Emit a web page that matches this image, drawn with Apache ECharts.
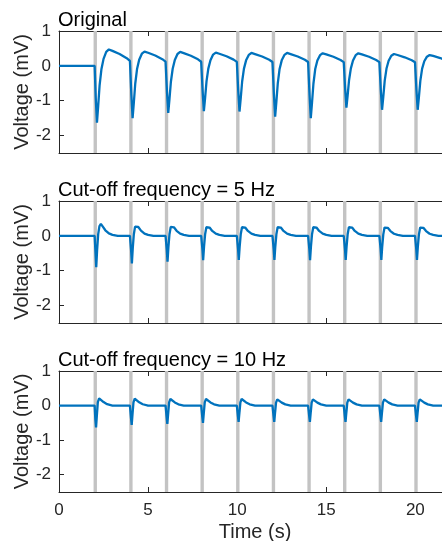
<!DOCTYPE html>
<html lang="en">
<head>
<meta charset="UTF-8">
<title>Voltage traces</title>
<script src="https://cdn.jsdelivr.net/npm/echarts@6/dist/echarts.min.js"></script>
<style>
	html, body { margin: 0; padding: 0; background: #fff; }
	#main { width: 442px; height: 541px; }
</style>
</head>
<body>
<div id="main"></div>
<script>
	// titles of the three panels
	var panelTitles = ['Original', 'Cut-off frequency = 5 Hz', 'Cut-off frequency = 10 Hz'];
	// stimulus times (s), shown as gray bars
	var stimTimes = [2, 4, 6, 8, 10, 12, 14, 16, 18, 20, 22];
	var yTicks = [-2, -1, 0, 1];

	var shapeOriginal = [[0.06, -0.9], [0.13, -1.63], [0.2, -1.15], [0.28, -0.55], [0.38, -0.1],
		[0.5, 0.2], [0.65, 0.4], [0.8, 0.47], [1.0, 0.43], [1.4, 0.34], [1.8, 0.22], [1.98, 0.14]];
	var shape5Hz = [[0.05, -0.5], [0.09, -0.9], [0.14, -0.4], [0.2, 0.05], [0.27, 0.28],
		[0.35, 0.34], [0.45, 0.27], [0.6, 0.16], [0.8, 0.07], [1.0, 0.03], [1.3, 0.0], [1.98, 0.0]];
	var shape10Hz = [[0.04, -0.4], [0.08, -0.63], [0.13, -0.25], [0.18, 0.1], [0.25, 0.21],
		[0.35, 0.16], [0.5, 0.1], [0.7, 0.04], [1.0, 0.0], [1.98, 0.0]];

	// minimum and peak of every pulse
	var minOriginal = [-1.63, -1.5, -1.35, -1.3, -1.31, -1.46, -1.5, -1.2, -1.26, -1.26, -1.3];
	var peakOriginal = [0.47, 0.41, 0.4, 0.38, 0.37, 0.37, 0.36, 0.36, 0.34, 0.31, 0.31];
	var min5Hz = [-0.9, -0.79, -0.74, -0.7, -0.69, -0.69, -0.7, -0.69, -0.69, -0.69, -0.7];
	var peak5Hz = [0.34, 0.32, 0.31, 0.3, 0.3, 0.3, 0.3, 0.3, 0.29, 0.29, 0.29];
	var min10Hz = [-0.63, -0.56, -0.53, -0.5, -0.47, -0.47, -0.47, -0.47, -0.47, -0.47, -0.47];
	var peak10Hz = [0.21, 0.2, 0.19, 0.19, 0.19, 0.18, 0.18, 0.18, 0.18, 0.18, 0.18];

	function buildTrace(shape, mins, peaks) {
		var lo = Math.min.apply(null, shape.map(function (p) { return p[1]; }));
		var hi = Math.max.apply(null, shape.map(function (p) { return p[1]; }));
		var pts = [[0, 0], [stimTimes[0], 0]];
		stimTimes.forEach(function (t0, i) {
			shape.forEach(function (p) {
				var v = p[1] < 0 ? p[1] * mins[i] / lo : p[1] * peaks[i] / hi;
				pts.push([t0 + p[0], v]);
			});
		});
		return pts;
	}

	var traces = [
		buildTrace(shapeOriginal, minOriginal, peakOriginal),
		buildTrace(shape5Hz, min5Hz, peak5Hz),
		buildTrace(shape10Hz, min10Hz, peak10Hz)
	];

	var font = 'Liberation Sans, Arial, Helvetica, sans-serif';
	var axisColor = '#262626';
	var gridTops = [31, 201, 371];
	var gridHeights = [122, 122, 121];

	var grids = [], xAxes = [], yAxes = [], series = [], titles = [];
	for (var i = 0; i < 3; i++) {
		grids.push({ left: 59, top: gridTops[i], width: 392, height: gridHeights[i], outerBoundsMode: 'none', containLabel: false });
		titles.push({
			text: panelTitles[i], left: 58, top: gridTops[i] - 21, padding: 0,
			textStyle: { fontSize: 20, fontWeight: 'normal', color: '#000', fontFamily: font }
		});
		xAxes.push({
			type: 'value', gridIndex: i, position: 'bottom', min: 0, max: 22, interval: 5,
			axisLine: { show: true, onZero: false, lineStyle: { color: axisColor, width: 1 } },
			axisTick: { show: true, inside: true, length: 5, lineStyle: { color: axisColor } },
			axisLabel: { show: i === 2, showMaxLabel: false, fontSize: 17, color: axisColor, margin: 10, fontFamily: font },
			splitLine: { show: false },
			name: i === 2 ? 'Time (s)' : '', nameLocation: 'middle', nameGap: 30, nameMoveOverlap: false,
			nameTextStyle: { fontSize: 20, color: axisColor, fontFamily: font }
		});
		yAxes.push({
			type: 'value', gridIndex: i, min: -2.5, max: 1,
			axisLine: { show: true, onZero: false, lineStyle: { color: axisColor, width: 1 } },
			axisTick: { show: true, inside: true, length: 5, customValues: yTicks, lineStyle: { color: axisColor } },
			axisLabel: { fontSize: 17, color: axisColor, margin: 8, customValues: yTicks, fontFamily: font },
			splitLine: { show: false },
			name: 'Voltage (mV)', nameLocation: 'middle', nameGap: 27, nameMoveOverlap: false,
			nameTextStyle: { fontSize: 20, color: axisColor, fontFamily: font }
		});
		series.push({
			type: 'line', xAxisIndex: i, yAxisIndex: i,
			data: traces[i], showSymbol: false, smooth: false,
			lineStyle: { color: '#0072BD', width: 2.3 },
			markArea: {
				silent: true,
				itemStyle: { color: '#c3c3c3' },
				data: stimTimes.map(function (t) { return [{ xAxis: t - 0.06 }, { xAxis: t + 0.13 }]; })
			}
		});
	}
	// top box edge with inward ticks
	for (var k = 0; k < 3; k++) {
		xAxes.push({
			type: 'value', gridIndex: k, position: 'top', min: 0, max: 22, interval: 5,
			axisLine: { show: true, onZero: false, lineStyle: { color: axisColor, width: 1 } },
			axisTick: { show: true, inside: true, length: 5, lineStyle: { color: axisColor } },
			axisLabel: { show: false }, splitLine: { show: false }
		});
	}

	var myChart = echarts.init(document.getElementById('main'));
	myChart.setOption({
		animation: false,
		textStyle: { fontFamily: font },
		title: titles,
		grid: grids,
		xAxis: xAxes,
		yAxis: yAxes,
		series: series
	});
</script>
</body>
</html>
